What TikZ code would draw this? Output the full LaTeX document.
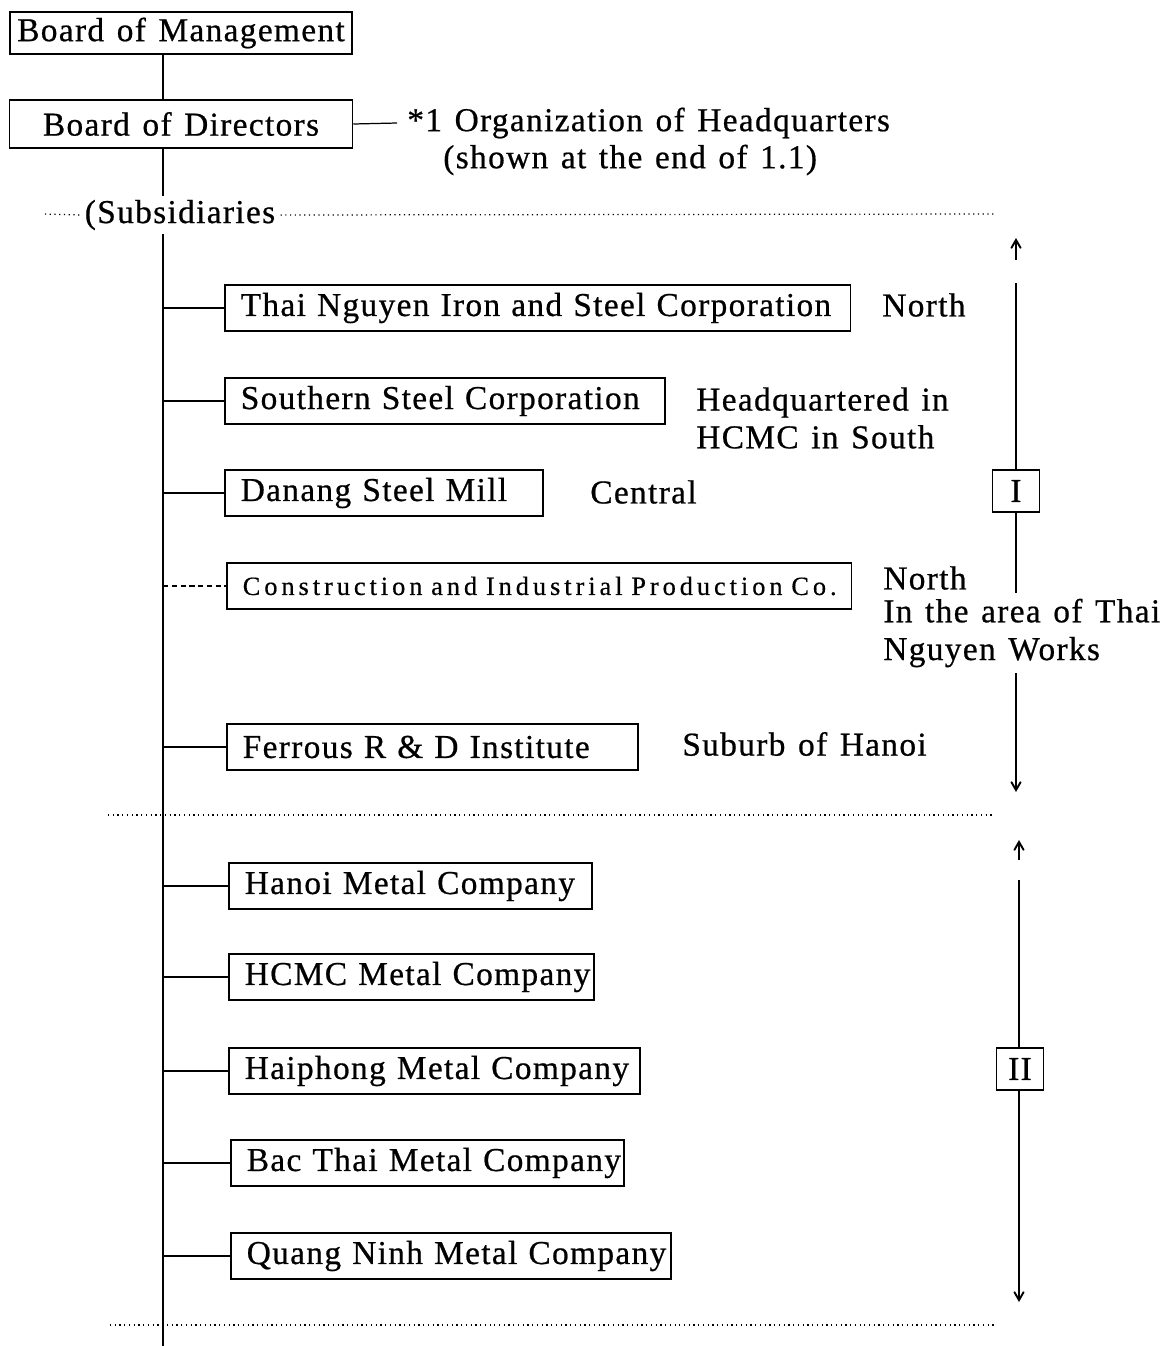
\documentclass[tikz,border=0pt]{standalone}
\usepackage{fontspec}
\setmainfont{Liberation Serif}[LetterSpace=4, WordSpace=1.3, FakeBold=0.6]
\newfontfamily\condfont{Liberation Serif}[LetterSpace=15, FakeBold=0.5]
\usepackage{tikz}
\usetikzlibrary{positioning}
\usetikzlibrary{arrows}
\newcommand{\chartsize}{\fontsize{19pt}{21.5pt}\selectfont}

\tikzset{
  topbox/.style={draw, line width=0.9pt, inner xsep=0pt, font=\chartsize},
  unitbox/.style={draw, line width=0.9pt, anchor=west, align=left, inner xsep=0.32cm,
    minimum height=0.92cm, font=\chartsize},
  note/.style={anchor=west, align=left, inner sep=0pt, font=\chartsize},
  branch/.style={line width=0.7pt},
  trunk/.style={line width=1.4pt},
  sepline/.style={dotted, line width=0.7pt},
  rline/.style={line width=1.1pt},
  regionbox/.style={draw, line width=0.9pt, fill=white, minimum width=0.94cm,
    minimum height=0.84cm, inner sep=0pt, font=\chartsize},
}

\begin{document}
\begin{tikzpicture}[x=0.02cm, y=-0.02cm, >=angle 60]
  \useasboundingbox (0,0) rectangle (1171,1346);
  \coordinate (tk) at (163,0);
  \coordinate (tkend) at (163,1346);

  % head of the chart
  \node[topbox, minimum width=6.84cm, minimum height=0.78cm] (bom) at (181,33) {Board of Management};
  \node[topbox, minimum width=6.86cm, minimum height=0.96cm] (bod) at (181,124) {Board of Directors};
  \node[note, inner xsep=0.2cm] (hq) at (397,123) {*1 Organization of Headquarters};
  \node[note] (hqb) at (443,160) {(shown at the end of 1.1)};
  \draw[branch] (bod.east) -- (hq.west);
  \draw[line width=0.9pt] (bom.south -| tk) -- (bod.north -| tk);

  \node[note, anchor=center, inner xsep=0.1cm, inner ysep=2pt] (subs) at (180,215) {(Subsidiaries};
  \coordinate (sl0) at (45,214);
  \coordinate (sr0) at (995,214);
  \draw[sepline] (sl0) -- (subs.west);
  \draw[sepline] (subs.east) -- (sr0);
  \draw[line width=0.9pt] (bod.south -| tk) -- (subs.north -| tk);
  \draw[trunk] (subs.south -| tk) -- (tkend);

  % subsidiaries
  \foreach \nm/\bx/\by/\tw/\txt in {
      tnisc/224/308/11.88/Thai Nguyen Iron and Steel Corporation,
      ssc/224/401/8.16/Southern Steel Corporation,
      dsm/224/493/5.72/Danang Steel Mill,
      frdi/226/747/7.58/Ferrous R \& D Institute,
      hnmc/228/886/6.62/Hanoi Metal Company,
      hcmc/228/977/6.66/HCMC Metal Company,
      hpmc/228/1071/7.58/Haiphong Metal Company,
      btmc/230/1163/7.22/Bac Thai Metal Company,
      qnmc/230/1256/8.16/Quang Ninh Metal Company}
  {
    \node[unitbox, text width=\tw cm] (\nm) at (\bx,\by) {\mbox{\txt}};
    \draw[branch] (\nm.west -| tk) -- (\nm.west);
  }
  \node[unitbox, text width=11.86cm, font=\condfont\fontsize{15pt}{17pt}\selectfont] (cipc) at (226,586)
    {\mbox{Construction and Industrial Production Co.}};
  \draw[branch, densely dashed] (cipc.west -| tk) -- (cipc.west);

  % locations
  \node[note] (loc1) at (882,305) {North};
  \node[note] (loc2) at (696,418) {Headquartered in\\HCMC in South};
  \node[note] (loc3) at (590,492) {Central};
  \node[note] (loc4) at (883,578) {North};
  \node[note] (loc5) at (682,744) {Suburb of Hanoi};

  % separators
  \coordinate (sl1) at (108,815);
  \coordinate (sr1) at (993,815);
  \coordinate (sl2) at (110,1325);
  \coordinate (sr2) at (995,1325);
  \draw[sepline] (sl1) -- (sr1);
  \draw[sepline] (sl2) -- (sr2);

  % group I
  \node[regionbox] (g1) at (1016,491) {I};
  \coordinate (g1tip) at (1016,238);
  \coordinate (g1tail) at (1016,260);
  \coordinate (g1top) at (1016,283);
  \coordinate (g1bot) at (1016,792);
  \draw[rline, ->] (g1tail) -- (g1tip);
  \draw[rline] (g1top) -- (g1.north);
  \draw[rline, ->] (g1.south) -- (g1bot);
  \node[note, fill=white, inner xsep=0pt, inner ysep=3pt] (loc4b) at (883,633)
    {In the area of Thai\\Nguyen Works};

  % group II
  \node[regionbox] (g2) at (1020,1069) {II};
  \coordinate (g2tip) at (1019,840);
  \coordinate (g2tail) at (1019,860);
  \coordinate (g2top) at (1019,880);
  \coordinate (g2bot) at (1019,1302);
  \draw[rline, ->] (g2tail) -- (g2tip);
  \draw[rline] (g2top) -- (g2.north -| g2top);
  \draw[rline, ->] (g2.south -| g2top) -- (g2bot);
\end{tikzpicture}
\end{document}
